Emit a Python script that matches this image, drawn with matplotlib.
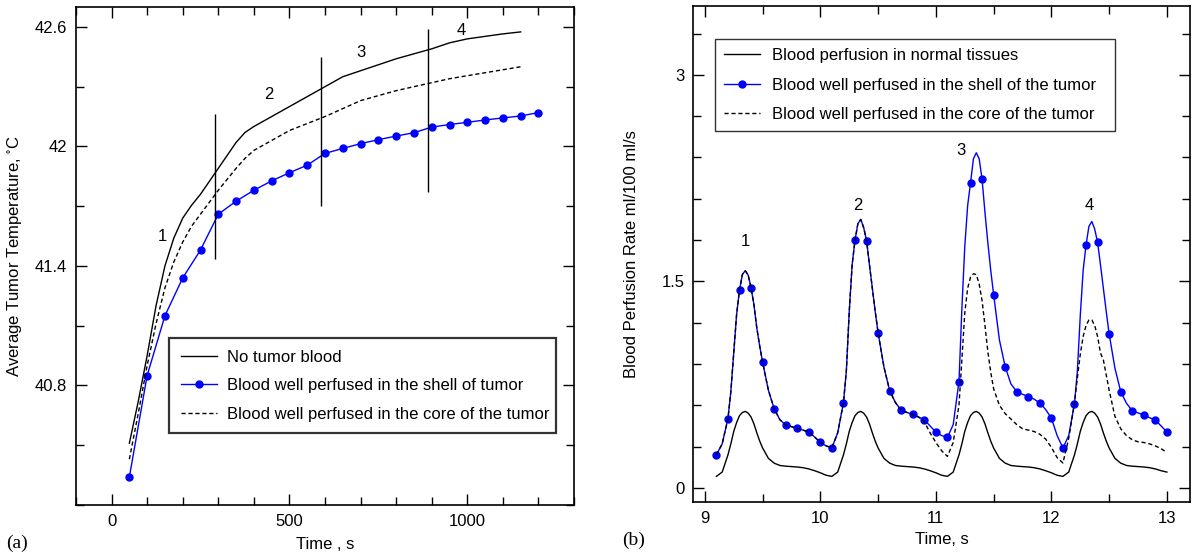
import numpy as np
import matplotlib.pyplot as plt
from matplotlib.ticker import MultipleLocator

plt.rcParams['font.family'] = ['Liberation Sans', 'DejaVu Sans']
plt.rcParams['mathtext.default'] = 'regular'

# -------------------------
# Panel (a) data
# -------------------------
t_shell = [50, 100, 150, 200, 250, 300, 350, 400, 450, 500, 550, 600,
           650, 700, 750, 800, 850, 900, 950, 1000, 1050, 1100, 1150, 1200]
temp_shell = [40.34, 40.85, 41.15, 41.34, 41.48, 41.66, 41.725, 41.78, 41.827,
              41.868, 41.906, 41.965, 41.99, 42.014, 42.034, 42.052, 42.069,
              42.097, 42.11, 42.121, 42.133, 42.143, 42.153, 42.17]

t_line = [50, 75, 100, 125, 150, 175, 200, 225, 250, 300, 350, 375, 400, 500,
          600, 650, 700, 800, 900, 950, 1000, 1100, 1150]
temp_none = [40.51, 40.72, 40.95, 41.2, 41.40, 41.54, 41.64, 41.705, 41.76,
             41.89, 42.02, 42.07, 42.10, 42.20, 42.30, 42.35, 42.38, 42.44,
             42.49, 42.52, 42.54, 42.565, 42.575]
temp_core = [40.43, 40.66, 40.90, 41.11, 41.29, 41.42, 41.52, 41.60, 41.66,
             41.78, 41.89, 41.94, 41.98, 42.08, 42.15, 42.19, 42.23, 42.28,
             42.32, 42.34, 42.355, 42.385, 42.40]

stage_t = [290, 590, 889]
stage_lo = [41.434, 41.70, 41.77]
stage_hi = [42.164, 42.45, 42.59]
label_a_t = [144, 443, 701, 983]
label_a_y = [41.55, 42.26, 42.47, 42.58]
stage_names = ['1', '2', '3', '4']

# -------------------------
# Panel (b) data
# -------------------------
t_b = [9.10, 9.15, 9.20, 9.225, 9.25, 9.275, 9.30, 9.325, 9.35, 9.375, 9.40,
       9.425, 9.45, 9.475, 9.50, 9.55, 9.60, 9.65, 9.70, 9.75, 9.80, 9.85,
       9.90, 9.95, 10.00, 10.05,
       10.10, 10.15, 10.20, 10.225, 10.25, 10.275, 10.30, 10.325, 10.35,
       10.375, 10.40, 10.425, 10.45, 10.475, 10.50, 10.55, 10.60, 10.65,
       10.70, 10.75, 10.80, 10.85, 10.90, 10.95, 11.00, 11.05,
       11.10, 11.15, 11.20, 11.225, 11.25, 11.275, 11.30, 11.325, 11.35,
       11.375, 11.40, 11.425, 11.45, 11.475, 11.50, 11.55, 11.60, 11.65,
       11.70, 11.75, 11.80, 11.85, 11.90, 11.95, 12.00, 12.05,
       12.10, 12.15, 12.20, 12.225, 12.25, 12.275, 12.30, 12.325, 12.35,
       12.375, 12.40, 12.425, 12.45, 12.475, 12.50, 12.55, 12.60, 12.65,
       12.70, 12.75, 12.80, 12.85, 12.90, 12.95, 13.00]

perf_normal = [0.084, 0.115, 0.24, 0.32, 0.41, 0.475, 0.525, 0.548, 0.556,
               0.543, 0.515, 0.465, 0.40, 0.34, 0.29, 0.215, 0.18, 0.163,
               0.158, 0.155, 0.152, 0.147, 0.138, 0.125, 0.11, 0.092,
               0.084, 0.115, 0.24, 0.32, 0.41, 0.475, 0.525, 0.548, 0.556,
               0.543, 0.515, 0.465, 0.40, 0.34, 0.29, 0.215, 0.18, 0.163,
               0.158, 0.155, 0.152, 0.147, 0.138, 0.125, 0.11, 0.092,
               0.084, 0.115, 0.24, 0.32, 0.41, 0.475, 0.525, 0.548, 0.556,
               0.543, 0.515, 0.465, 0.40, 0.34, 0.29, 0.215, 0.18, 0.163,
               0.158, 0.155, 0.152, 0.147, 0.138, 0.125, 0.11, 0.092,
               0.084, 0.115, 0.24, 0.32, 0.41, 0.475, 0.525, 0.548, 0.556,
               0.543, 0.515, 0.465, 0.40, 0.34, 0.29, 0.215, 0.18, 0.163,
               0.158, 0.155, 0.152, 0.147, 0.138, 0.125, 0.115]

perf_shell = [0.241, 0.32, 0.503, 0.70, 0.98, 1.26, 1.438, 1.55, 1.578, 1.545,
              1.455, 1.33, 1.16, 1.03, 0.913, 0.71, 0.575, 0.495, 0.457, 0.445,
              0.432, 0.42, 0.406, 0.37, 0.331, 0.305,
              0.292, 0.40, 0.619, 0.85, 1.28, 1.62, 1.80, 1.92, 1.95, 1.89,
              1.796, 1.62, 1.45, 1.28, 1.126, 0.88, 0.706, 0.62, 0.563, 0.548,
              0.534, 0.515, 0.495, 0.45, 0.406, 0.38,
              0.367, 0.46, 0.771, 1.30, 1.75, 2.05, 2.216, 2.39, 2.434, 2.39,
              2.241, 2.00, 1.78, 1.58, 1.404, 1.075, 0.88, 0.755, 0.70, 0.68,
              0.664, 0.645, 0.616, 0.57, 0.507, 0.38,
              0.29, 0.38, 0.611, 0.85, 1.25, 1.58, 1.764, 1.90, 1.935, 1.88,
              1.784, 1.62, 1.45, 1.28, 1.119, 0.87, 0.70, 0.615, 0.561, 0.545,
              0.529, 0.51, 0.493, 0.45, 0.406]

perf_core = [0.241, 0.32, 0.503, 0.70, 0.98, 1.26, 1.438, 1.55, 1.578, 1.545,
             1.455, 1.33, 1.16, 1.03, 0.913, 0.71, 0.575, 0.495, 0.457, 0.445,
             0.432, 0.42, 0.406, 0.37, 0.331, 0.305,
             0.292, 0.40, 0.619, 0.85, 1.28, 1.62, 1.80, 1.92, 1.95, 1.89,
             1.796, 1.62, 1.45, 1.28, 1.126, 0.88, 0.706, 0.62, 0.563, 0.548,
             0.534, 0.515, 0.48, 0.40, 0.33, 0.27,
             0.229, 0.33, 0.60, 0.93, 1.27, 1.45, 1.53, 1.555, 1.55, 1.48,
             1.36, 1.18, 0.99, 0.84, 0.72, 0.60, 0.54, 0.50, 0.46, 0.43,
             0.42, 0.41, 0.39, 0.355, 0.295, 0.22,
             0.181, 0.36, 0.62, 0.80, 0.97, 1.10, 1.18, 1.22, 1.22, 1.18,
             1.10, 0.98, 0.93, 0.82, 0.71, 0.52, 0.43, 0.38, 0.35, 0.335,
             0.33, 0.32, 0.305, 0.285, 0.258]

label_b_t = [9.35, 10.32, 11.22, 12.33]
label_b_y = [1.79, 2.05, 2.45, 2.05]

fig = plt.figure(figsize=(11.94, 5.56), dpi=100)
ax1 = fig.add_axes([76 / 1194, 51 / 556, 498 / 1194, 498 / 556])
ax2 = fig.add_axes([693.3 / 1194, 54.3 / 556, 496.7 / 1194, 495.7 / 556])

# Panel (a)
ax1.plot(t_line, temp_none, color='black', lw=1.0, label='No tumor blood')
ax1.plot(t_shell, temp_shell, color='blue', lw=1.0, marker='o', ms=5,
         label='Blood well perfused in the shell of tumor')
ax1.plot(t_line, temp_core, color='black', lw=1.0, ls=(0, (3, 2)),
         label='Blood well perfused in the core of the tumor')
ax1.vlines(stage_t, stage_lo, stage_hi, color='black', lw=1.0)
for x, y, s in zip(label_a_t, label_a_y, stage_names):
    ax1.text(x, y, s, fontsize=12, ha='center', va='center')

ax1.set_xlim(-100, 1300)
ax1.set_ylim(40.2, 42.7)
ax1.xaxis.set_major_locator(MultipleLocator(500))
ax1.xaxis.set_minor_locator(MultipleLocator(100))
ax1.set_yticks([40.8, 41.4, 42.0, 42.6])
ax1.set_yticklabels(['40.8', '41.4', '42', '42.6'])
ax1.yaxis.set_minor_locator(MultipleLocator(0.3))
ax1.set_xlabel('Time , s', fontsize=12)
ax1.set_ylabel('Average Tumor Temperature, $^{\\circ}$C', fontsize=12)
ax1.xaxis.set_label_coords(0.5, -0.064)
ax1.yaxis.set_label_coords(-0.104, 0.5)
leg1 = ax1.legend(loc='upper left', bbox_to_anchor=(0.187, 0.137, 0.777, 0.198),
                  mode='expand', fontsize=12, frameon=True, fancybox=False,
                  numpoints=1, handlelength=2.2, handletextpad=0.6,
                  borderaxespad=0, labelspacing=0.8, borderpad=0.7)
leg1.get_frame().set_edgecolor('black')
leg1.get_frame().set_linewidth(1.6)
fig.text(0.005, 0.0234, '(a)', family='Liberation Serif', fontsize=14,
         va='center')

# Panel (b)
mark_idx = [i for i, t in enumerate(t_b) if abs(t * 10 - round(t * 10)) < 1e-6]
ax2.plot(t_b, perf_normal, color='black', lw=1.0,
         label='Blood perfusion in normal tissues')
ax2.plot(t_b, perf_shell, color='blue', lw=1.0, marker='o', ms=5,
         markevery=mark_idx, label='Blood well perfused in the shell of the tumor')
ax2.plot(t_b, perf_core, color='black', lw=1.0, ls=(0, (3, 2)),
         label='Blood well perfused in the core of the tumor')
for x, y, s in zip(label_b_t, label_b_y, stage_names):
    ax2.text(x, y, s, fontsize=12, ha='center', va='center')

ax2.set_xlim(8.9, 13.2)
ax2.set_ylim(-0.1, 3.5)
ax2.xaxis.set_major_locator(MultipleLocator(1))
ax2.xaxis.set_minor_locator(MultipleLocator(0.5))
ax2.set_yticks([0, 1.5, 3])
ax2.set_yticklabels(['0', '1.5', '3'])
ax2.yaxis.set_minor_locator(MultipleLocator(0.3))
ax2.set_xlabel('Time, s', fontsize=12)
ax2.set_ylabel('Blood Perfusion Rate ml/100 ml/s', fontsize=12)
ax2.xaxis.set_label_coords(0.5, -0.0605)
ax2.yaxis.set_label_coords(-0.109, 0.5)
leg2 = ax2.legend(loc='upper left', bbox_to_anchor=(0.043, 0.744, 0.806, 0.19),
                  mode='expand', fontsize=12, frameon=True, fancybox=False,
                  numpoints=1, handlelength=2.2, handletextpad=0.7,
                  borderaxespad=0, labelspacing=0.88, borderpad=0.55)
leg2.get_frame().set_edgecolor('black')
leg2.get_frame().set_linewidth(1.0)
fig.text(0.521, 0.0288, '(b)', family='Liberation Serif', fontsize=14,
         va='center')

for ax in (ax1, ax2):
    ax.tick_params(which='both', direction='in', top=True, right=True,
                   labelsize=12, pad=6.5)
    ax.tick_params(which='major', length=8, width=1)
    ax.tick_params(which='minor', length=5.5, width=1)
    for sp in ax.spines.values():
        sp.set_linewidth(1.2)

plt.savefig('out.png', dpi=100)
